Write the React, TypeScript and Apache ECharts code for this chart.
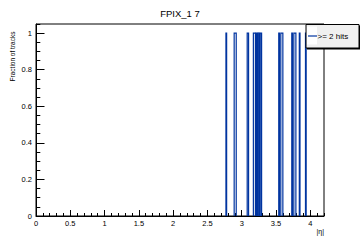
import React, { useEffect, useRef } from "react";
import * as echarts from "echarts";

const chartTitle = "FPIX_1 7";
const seriesName = ">= 2 hits";
const yTitle = "Fraction of tracks";
const xTitle = "|η|";

// non-empty bins of the histogram (|eta| bin edges) and their values
const binLow = [2.77, 2.89, 3.08, 3.17, 3.21, 3.23, 3.25, 3.27, 3.54, 3.57, 3.73, 3.76, 3.84, 3.93];
const binHigh = [2.78, 2.92, 3.1, 3.2, 3.22, 3.24, 3.26, 3.29, 3.55, 3.6, 3.74, 3.79, 3.85, 3.94];
const binValue = [1, 1, 1, 1, 1, 1, 1, 1, 1, 1, 1, 1, 1, 1];

const xMin = 0;
const xMax = 4.2;
const yMin = 0;
const yMax = 1.05;

const FONT = "'Liberation Sans', Arial, Helvetica, sans-serif";
const BLUE = "#0034a0";

export default function App() {
  const ref = useRef<HTMLDivElement>(null);

  useEffect(() => {
    if (!ref.current) return;
    const chart = echarts.init(ref.current, undefined, { renderer: "svg" });
    const data = binLow.map((lo, i) => [lo, binHigh[i], binValue[i]]);

    const axisCommon = {
      type: "value" as const,
      splitLine: { show: false },
    };

    chart.setOption({
      animation: false,
      backgroundColor: "#fff",
      title: {
        text: chartTitle,
        left: "center",
        top: 3,
        textStyle: { fontSize: 9.5, fontWeight: "normal", fontFamily: FONT, color: "#000" },
      },
      grid: {
        left: 36,
        right: 36,
        top: 24,
        bottom: 24,
        show: true,
        borderColor: "#000",
        borderWidth: 1,
        backgroundColor: "transparent",
      },
      xAxis: [
        {
          ...axisCommon,
          min: xMin,
          max: xMax,
          interval: 0.5,
          position: "bottom",
          axisLine: { show: true, onZero: false, lineStyle: { color: "#000", width: 1 } },
          axisTick: { show: true, inside: true, length: 6, lineStyle: { color: "#000" } },
          axisLabel: { fontSize: 7.5, color: "#000", fontFamily: FONT, margin: 3, showMaxLabel: false },
        },
        {
          ...axisCommon,
          min: xMin,
          max: xMax,
          interval: 0.1,
          position: "bottom",
          axisLine: { show: false, onZero: false },
          axisTick: { show: true, inside: true, length: 3, lineStyle: { color: "#000" } },
          axisLabel: { show: false },
        },
      ],
      yAxis: [
        {
          ...axisCommon,
          min: yMin,
          max: yMax,
          interval: 0.2,
          position: "left",
          axisLine: { show: true, onZero: false, lineStyle: { color: "#000", width: 1 } },
          axisTick: { show: true, inside: true, length: 8.5, lineStyle: { color: "#000" } },
          axisLabel: { fontSize: 7.5, color: "#000", fontFamily: FONT, margin: 4, showMaxLabel: false },
        },
        {
          ...axisCommon,
          min: yMin,
          max: yMax,
          interval: 0.05,
          position: "left",
          axisLine: { show: false, onZero: false },
          axisTick: { show: true, inside: true, length: 4.3, lineStyle: { color: "#000" } },
          axisLabel: { show: false },
        },
      ],
      series: [
        {
          type: "custom",
          name: seriesName,
          xAxisIndex: 0,
          yAxisIndex: 0,
          encode: { x: [0, 1], y: 2 },
          data,
          renderItem: (params: any, api: any) => {
            const lo = api.value(0);
            const hi = api.value(1);
            const v = api.value(2);
            const p0 = api.coord([lo, 0]);
            const p1 = api.coord([lo, v]);
            const p2 = api.coord([hi, v]);
            const p3 = api.coord([hi, 0]);
            return {
              type: "polyline",
              shape: { points: [p0, p1, p2, p3] },
              style: { fill: "none", stroke: BLUE, lineWidth: 1.2 },
            };
          },
        },
      ],
      graphic: [
        {
          type: "text",
          x: 12.5,
          y: 56.5,
          rotation: Math.PI / 2,
          style: {
            text: yTitle,
            fontSize: 6.5,
            fontFamily: FONT,
            fill: "#000",
            align: "center",
            verticalAlign: "middle",
          },
        },
        {
          type: "text",
          x: 324,
          y: 231,
          style: {
            text: xTitle,
            fontSize: 7,
            fontFamily: FONT,
            fill: "#000",
            align: "right",
            verticalAlign: "middle",
          },
        },
        {
          type: "rect",
          z: 100,
          shape: { x: 307, y: 25.5, width: 53, height: 24 },
          style: { fill: "#000" },
        },
        {
          type: "rect",
          z: 101,
          shape: { x: 306, y: 24.5, width: 53, height: 23.5 },
          style: { fill: "#f0f0f0", stroke: "#000", lineWidth: 1 },
        },
        {
          type: "rect",
          z: 102,
          shape: { x: 307, y: 26.5, width: 10, height: 18 },
          style: { fill: "#fff" },
        },
        {
          type: "line",
          z: 103,
          shape: { x1: 308, y1: 36, x2: 317, y2: 36 },
          style: { stroke: BLUE, lineWidth: 1.2 },
        },
        {
          type: "text",
          z: 103,
          x: 317.5,
          y: 36,
          style: {
            text: seriesName,
            fontSize: 8,
            fontFamily: FONT,
            fill: "#000",
            align: "left",
            verticalAlign: "middle",
          },
        },
      ],
    });

    return () => chart.dispose();
  }, []);

  return (
    <div
      ref={ref}
      style={{ position: "fixed", left: 0, top: 0, width: 360, height: 240 }}
    />
  );
}
